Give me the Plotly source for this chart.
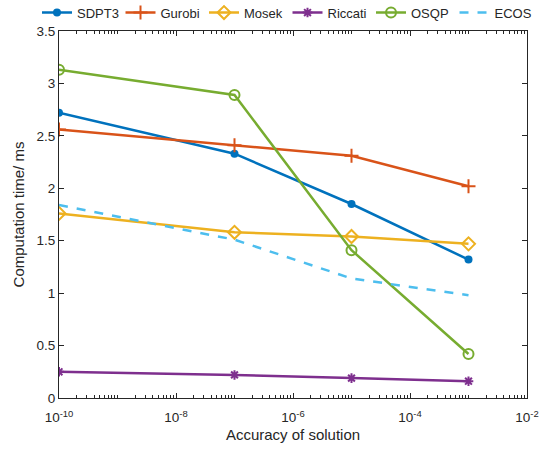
import plotly.graph_objects as go

accuracy = [1e-10, 1e-7, 1e-5, 1e-3]
sdpt3 = [2.72, 2.33, 1.85, 1.32]
gurobi = [2.56, 2.41, 2.31, 2.02]
mosek = [1.76, 1.58, 1.54, 1.47]
riccati = [0.25, 0.22, 0.19, 0.16]
osqp = [3.13, 2.89, 1.41, 0.42]
ecos = [1.84, 1.51, 1.14, 0.98]

x_tickvals = [1e-10, 1e-8, 1e-6, 1e-4, 1e-2]
x_ticktext = ["10<sup>-10</sup>", "10<sup>-8</sup>", "10<sup>-6</sup>", "10<sup>-4</sup>", "10<sup>-2</sup>"]
y_tickvals = [0, 0.5, 1, 1.5, 2, 2.5, 3, 3.5]
y_ticktext = ["0", "0.5", "1", "1.5", "2", "2.5", "3", "3.5"]

series = [
    ("SDPT3", sdpt3, "#0072BD", dict(symbol="circle", size=8), "solid"),
    ("Gurobi", gurobi, "#D95319", dict(symbol="cross-thin", size=10, line=dict(width=2, color="#D95319")), "solid"),
    ("Mosek", mosek, "#EDB120", dict(symbol="diamond-open", size=10, line=dict(width=2)), "solid"),
    ("Riccati", riccati, "#7E2F8E", dict(symbol="asterisk-open", size=8, line=dict(width=2, color="#7E2F8E")), "solid"),
    ("OSQP", osqp, "#77AC30", dict(symbol="circle-open", size=10, line=dict(width=2)), "solid"),
    ("ECOS", ecos, "#4DBEEE", None, "dash"),
]

fig = go.Figure()
for name, vals, color, marker, dash in series:
    if marker is None:
        fig.add_trace(go.Scatter(x=accuracy, y=vals, name=name, mode="lines",
                                 line=dict(color=color, width=2.5, dash=dash)))
    else:
        fig.add_trace(go.Scatter(x=accuracy, y=vals, name=name, mode="lines+markers",
                                 line=dict(color=color, width=2.5, dash=dash),
                                 marker=dict(color=color, **marker)))

fig.update_layout(
    width=550, height=452,
    margin=dict(l=59, r=23, t=31, b=54, autoexpand=False),
    plot_bgcolor="white", paper_bgcolor="white",
    font=dict(family="Liberation Sans, Arial, sans-serif", size=13.5, color="#262626"),
    legend=dict(orientation="h", xref="paper", x=-0.047, xanchor="left",
                yref="paper", y=1.091, yanchor="top",
                font=dict(size=13), bgcolor="rgba(0,0,0,0)",
                entrywidth=38.5, entrywidthmode="pixels", itemwidth=30, tracegroupgap=0),
    showlegend=True,
)
fig.update_xaxes(type="log", range=[-10, -2], tickvals=x_tickvals, ticktext=x_ticktext, automargin=False,
                 ticks="inside", ticklen=5, tickcolor="#262626", showline=True, linecolor="#262626",
                 linewidth=1, mirror="ticks", showgrid=False, zeroline=False, ticklabelstandoff=7,
                 minor=dict(ticks="inside", ticklen=3, tickcolor="#262626", dtick="D1", showgrid=False),
                 title=dict(text="Accuracy of solution", font=dict(size=15), standoff=5))
fig.update_yaxes(range=[0, 3.5], tickvals=y_tickvals, ticktext=y_ticktext, automargin=False,
                 ticks="inside", ticklen=5, tickcolor="#262626", showline=True, linecolor="#262626",
                 linewidth=1, mirror="ticks", showgrid=False, zeroline=False,
                 title=dict(text="Computation time/ ms", font=dict(size=15), standoff=8))

fig.write_html("out.html", config={"displayModeBar": False},
               post_script="document.body.style.margin='0';")
